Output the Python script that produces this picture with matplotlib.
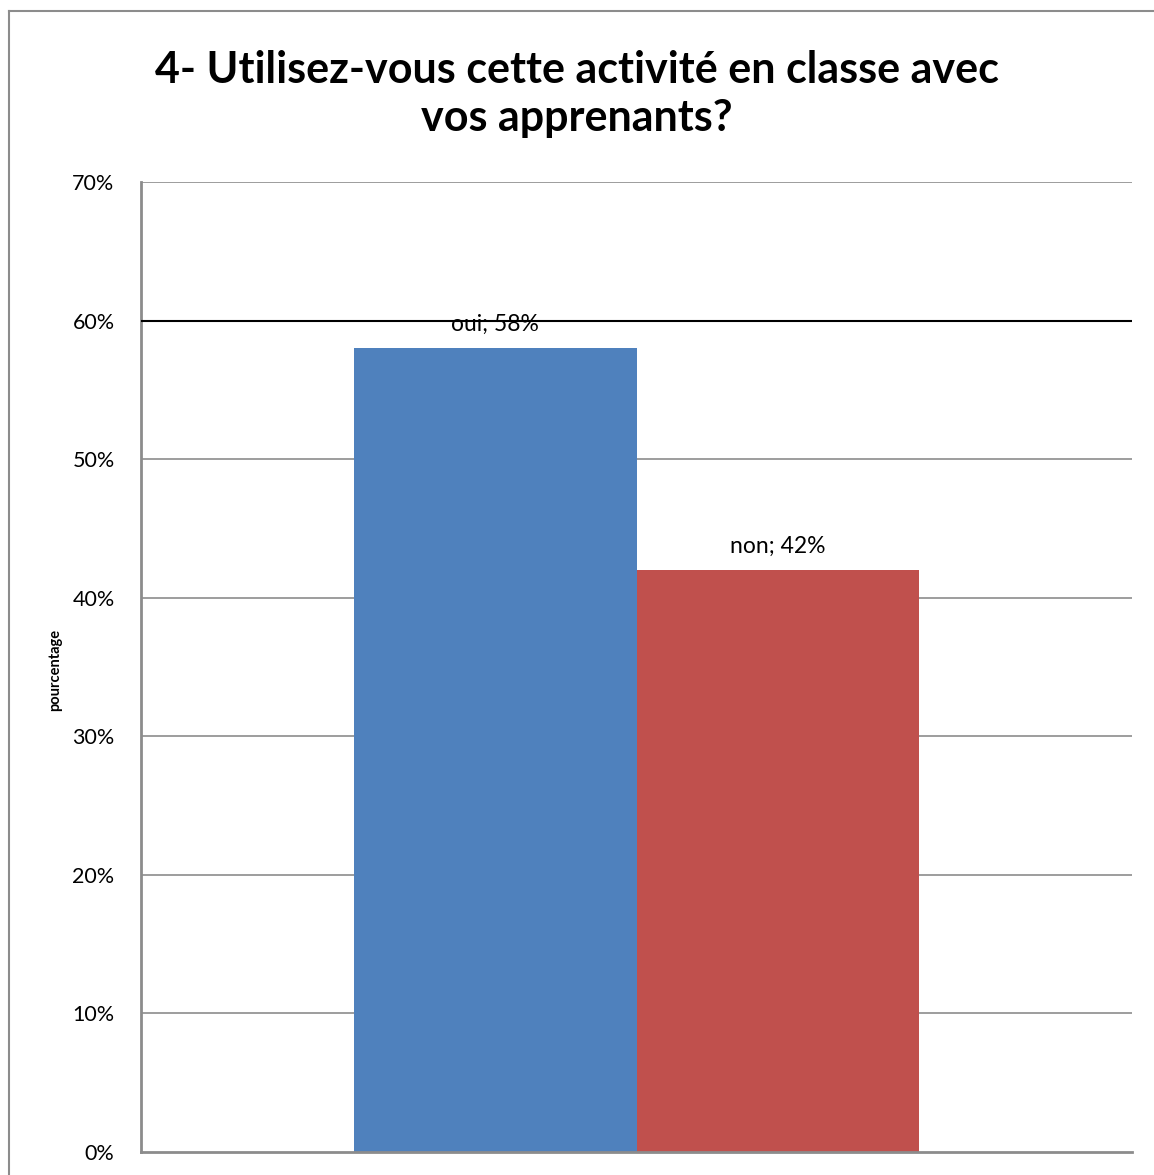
import matplotlib
matplotlib.use('Agg')
import matplotlib.pyplot as plt
from matplotlib.lines import Line2D

# données du graphique
series = ['oui', 'non']
values = [0.58, 0.42]
colors = ['#4F81BD', '#C0504D']
yticks = [0, 0.1, 0.2, 0.3, 0.4, 0.5, 0.6, 0.7]
title = '4- Utilisez-vous cette activité en classe avec\nvos apprenants?'

plt.rcParams['font.family'] = ['Lato', 'DejaVu Sans']

fig = plt.figure(figsize=(11.54, 11.75), dpi=100)
ax = fig.add_axes([141 / 1154, 1 - 1152 / 1175, 991 / 1154, 970 / 1175])

# cadre extérieur (seuls les bords gauche et haut sont visibles)
fig.add_artist(Line2D([9 / 1154, 9 / 1154], [0, 1 - 11 / 1175], color='#8c8c8c', lw=1.5))
fig.add_artist(Line2D([9 / 1154, 1], [1 - 11 / 1175, 1 - 11 / 1175], color='#8c8c8c', lw=1.5))

w = 0.285
xs = [-w / 2, w / 2]
for x, v, c, s in zip(xs, values, colors, series):
    ax.bar(x, v, width=w, color=c, zorder=2)
    ax.annotate(f'{s}; {round(v * 100)}%', (x, v), xytext=(0, 17), textcoords='offset points',
                ha='center', va='center', fontsize=16.5, zorder=3)

ax.set_xlim(-0.5, 0.5)
ax.set_ylim(0, 0.7)
ax.set_yticks(yticks)
ax.set_yticklabels([f'{int(round(t * 100))}%' for t in yticks], fontsize=15.5)
ax.set_xticks([])
ax.tick_params(axis='y', length=0, pad=19)

for t in yticks[1:]:
    col = 'black' if abs(t - 0.6) < 1e-9 else '#8c8c8c'
    lw = 1.5 if col == 'black' else 1.2
    ax.axhline(t, color=col, lw=lw, zorder=1 if col != 'black' else 4)

for side in ['top', 'right']:
    ax.spines[side].set_visible(False)
for side in ['left', 'bottom']:
    ax.spines[side].set_color('#8c8c8c')
    ax.spines[side].set_linewidth(2)

fig.text(55 / 1154, 1 - 670 / 1175, 'pourcentage', rotation=90, ha='center', va='center',
         fontsize=10.5, fontweight='bold')

fig.text(0.5, 1 - 94 / 1175, title, ha='center', va='center', fontsize=31,
         fontweight='bold', linespacing=1.27)

fig.savefig('out.png', dpi=100)
